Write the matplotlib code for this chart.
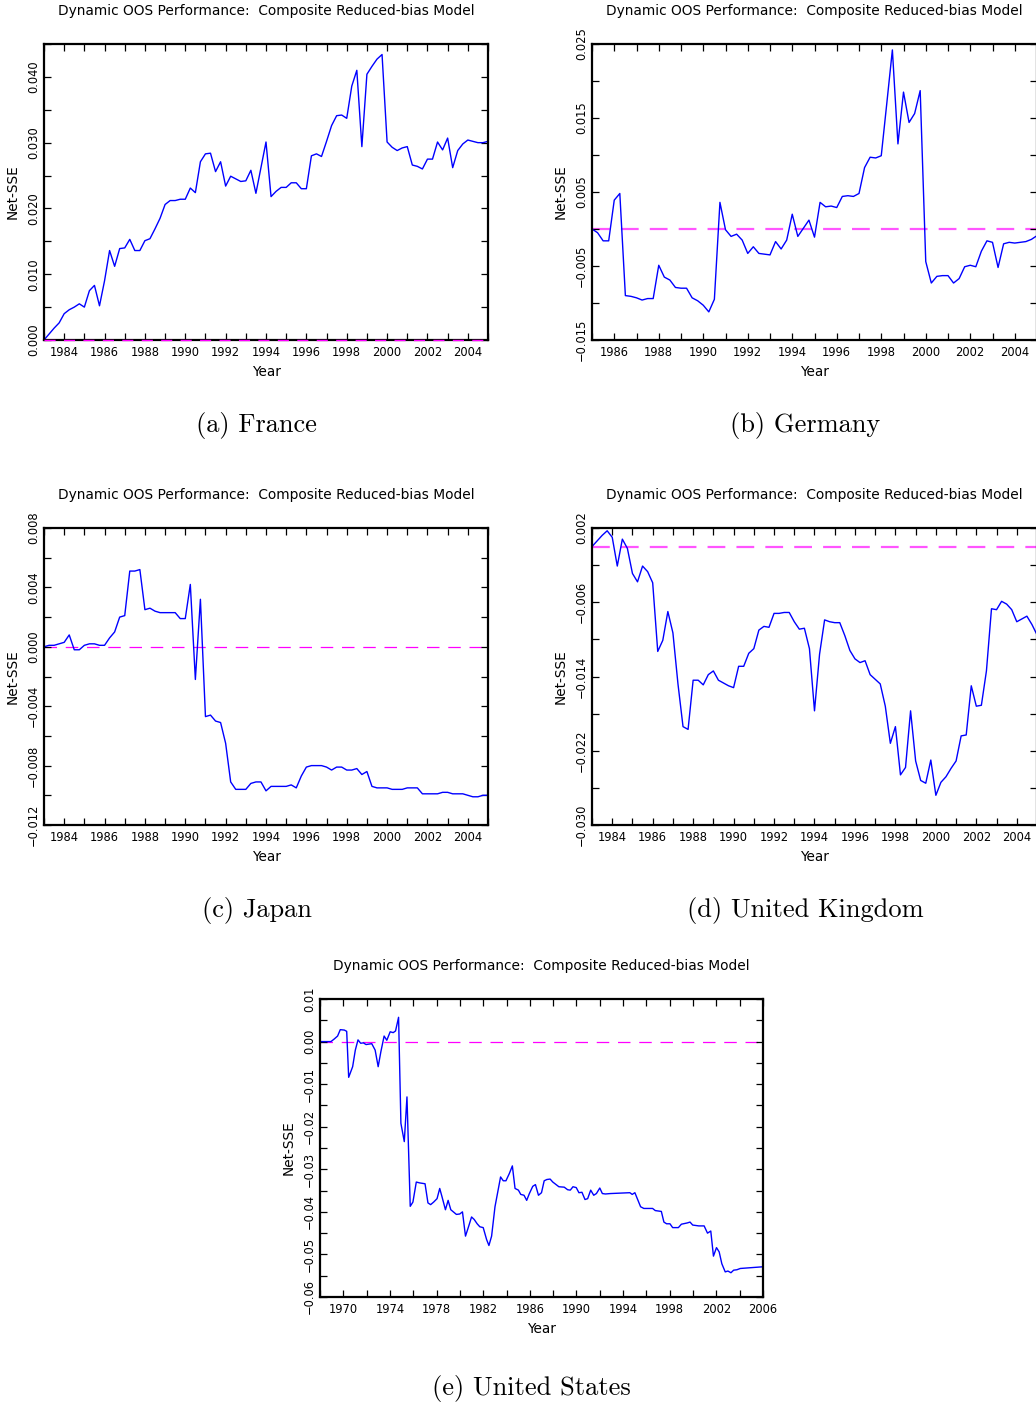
import numpy as np
import matplotlib
matplotlib.use("Agg")
import matplotlib.pyplot as plt
from matplotlib.transforms import offset_copy
from matplotlib.ticker import FixedLocator, FuncFormatter

# ---------------- data ----------------
france_start = 1983.0
france = [0.0000, 0.0009, 0.0018, 0.0026, 0.0040, 0.0046, 0.0050, 0.0055, 0.0050, 0.0075,
          0.0083, 0.0052, 0.0090, 0.0136, 0.0112, 0.0139, 0.0140, 0.0153, 0.0136, 0.0136,
          0.0151, 0.0154, 0.0169, 0.0185, 0.0206, 0.0212, 0.0212, 0.0214, 0.0214, 0.0231,
          0.0224, 0.0271, 0.0283, 0.0284, 0.0256, 0.0271, 0.0234, 0.0249, 0.0245, 0.0241,
          0.0242, 0.0258, 0.0223, 0.0262, 0.0301, 0.0218, 0.0226, 0.0232, 0.0232, 0.0239,
          0.0239, 0.0230, 0.0230, 0.0280, 0.0283, 0.0279, 0.0302, 0.0326, 0.0341, 0.0342,
          0.0337, 0.0386, 0.0410, 0.0294, 0.0404, 0.0416, 0.0427, 0.0434, 0.0301, 0.0293,
          0.0288, 0.0292, 0.0294, 0.0266, 0.0264, 0.0260, 0.0275, 0.0275, 0.0301, 0.0289,
          0.0307, 0.0262, 0.0288, 0.0298, 0.0304, 0.0302, 0.0300, 0.0300, 0.0302]

germany_start = 1985.0
germany = [0.0000, -0.0005, -0.0016, -0.0016, 0.0039, 0.0048, -0.0090, -0.0091, -0.0093, -0.0096,
           -0.0094, -0.0094, -0.0049, -0.0065, -0.0069, -0.0079, -0.0080, -0.0080, -0.0093, -0.0097,
           -0.0103, -0.0112, -0.0095, 0.0036, -0.0001, -0.0010, -0.0007, -0.0015, -0.0033, -0.0024,
           -0.0033, -0.0034, -0.0035, -0.0017, -0.0027, -0.0015, 0.0020, -0.0010, 0.0001, 0.0012,
           -0.0011, 0.0036, 0.0030, 0.0031, 0.0029, 0.0044, 0.0045, 0.0044, 0.0048, 0.0083,
           0.0097, 0.0096, 0.0099, 0.0170, 0.0242, 0.0115, 0.0185, 0.0144, 0.0156, 0.0187,
           -0.0044, -0.0073, -0.0064, -0.0063, -0.0063, -0.0073, -0.0067, -0.0051, -0.0049, -0.0051,
           -0.0030, -0.0016, -0.0018, -0.0052, -0.0020, -0.0018, -0.0019, -0.0018, -0.0017, -0.0014,
           -0.0009]

japan_start = 1983.0
japan = [0.0000, 0.0001, 0.0001, 0.0002, 0.0003, 0.0008, -0.0002, -0.0002, 0.0001, 0.0002,
         0.0002, 0.0001, 0.0001, 0.0006, 0.0010, 0.0020, 0.0021, 0.0051, 0.0051, 0.0052,
         0.0025, 0.0026, 0.0024, 0.0023, 0.0023, 0.0023, 0.0023, 0.0019, 0.0019, 0.0042,
         -0.0022, 0.0032, -0.0047, -0.0046, -0.0050, -0.0051, -0.0065, -0.0091, -0.0096, -0.0096,
         -0.0096, -0.0092, -0.0091, -0.0091, -0.0097, -0.0094, -0.0094, -0.0094, -0.0094, -0.0093,
         -0.0095, -0.0087, -0.0081, -0.0080, -0.0080, -0.0080, -0.0081, -0.0083, -0.0081, -0.0081,
         -0.0083, -0.0083, -0.0082, -0.0086, -0.0084, -0.0094, -0.0095, -0.0095, -0.0095, -0.0096,
         -0.0096, -0.0096, -0.0095, -0.0095, -0.0095, -0.0099, -0.0099, -0.0099, -0.0099, -0.0098,
         -0.0098, -0.0099, -0.0099, -0.0099, -0.0100, -0.0101, -0.0101, -0.0100, -0.0100]

uk_start = 1983.0
uk = [0.0000, 0.0006, 0.0012, 0.0017, 0.0010, -0.0021, 0.0008, -0.0002, -0.0029, -0.0038,
      -0.0021, -0.0027, -0.0039, -0.0113, -0.0101, -0.0070, -0.0093, -0.0148, -0.0194, -0.0197,
      -0.0144, -0.0144, -0.0149, -0.0138, -0.0134, -0.0144, -0.0147, -0.0150, -0.0152, -0.0129,
      -0.0129, -0.0115, -0.0110, -0.0090, -0.0086, -0.0087, -0.0072, -0.0072, -0.0071, -0.0071,
      -0.0081, -0.0089, -0.0088, -0.0110, -0.0177, -0.0116, -0.0079, -0.0081, -0.0082, -0.0082,
      -0.0096, -0.0112, -0.0121, -0.0125, -0.0123, -0.0138, -0.0143, -0.0148, -0.0172, -0.0212,
      -0.0194, -0.0246, -0.0238, -0.0177, -0.0231, -0.0252, -0.0255, -0.0230, -0.0268, -0.0254,
      -0.0248, -0.0239, -0.0231, -0.0204, -0.0203, -0.0150, -0.0172, -0.0171, -0.0134, -0.0067,
      -0.0068, -0.0059, -0.0062, -0.0068, -0.0081, -0.0078, -0.0075, -0.0084, -0.0095]

us_years = [1968.00, 1968.94, 1969.22, 1969.51, 1969.74, 1970.09, 1970.29, 1970.46, 1970.80, 1971.03,
            1971.26, 1971.49, 1971.72, 1971.95, 1972.18, 1972.44, 1972.73, 1972.99, 1973.22, 1973.50,
            1973.73, 1974.02, 1974.28, 1974.48, 1974.74, 1974.94, 1975.23, 1975.46, 1975.74, 1975.97,
            1976.26, 1976.55, 1977.01, 1977.26, 1977.49, 1977.75, 1978.04, 1978.27, 1978.47, 1978.76,
            1978.99, 1979.22, 1979.70, 1979.99, 1980.22, 1980.48, 1980.74, 1981.00, 1981.23, 1981.48,
            1981.71, 1982.00, 1982.29, 1982.49, 1982.72, 1983.01, 1983.49, 1983.72, 1983.95, 1984.24,
            1984.50, 1984.73, 1985.02, 1985.22, 1985.50, 1985.73, 1985.96, 1986.25, 1986.48, 1986.74,
            1987.00, 1987.23, 1987.46, 1987.74, 1987.97, 1988.49, 1988.95, 1989.24, 1989.47, 1989.70,
            1989.98, 1990.21, 1990.47, 1990.73, 1990.96, 1991.22, 1991.48, 1991.71, 1992.00, 1992.22,
            1992.48, 1992.91, 1994.58, 1994.78, 1995.01, 1995.50, 1995.78, 1996.53, 1996.76, 1997.28,
            1997.50, 1997.73, 1998.02, 1998.25, 1998.74, 1999.00, 1999.51, 1999.74, 1999.97, 2000.49,
            2000.95, 2001.24, 2001.52, 2001.75, 2002.01, 2002.24, 2002.47, 2002.76, 2002.99, 2003.25,
            2003.48, 2003.76, 2004.05, 2006.00]
us = [0.0000, 0.0000, 0.0006, 0.0013, 0.0028, 0.0027, 0.0024, -0.0084, -0.0059, -0.0020,
      0.0004, -0.0004, -0.0003, -0.0007, -0.0006, -0.0005, -0.0020, -0.0059, -0.0024, 0.0013,
      0.0003, 0.0023, 0.0021, 0.0025, 0.0057, -0.0192, -0.0235, -0.0130, -0.0387, -0.0377,
      -0.0330, -0.0332, -0.0334, -0.0379, -0.0383, -0.0377, -0.0369, -0.0345, -0.0365, -0.0395,
      -0.0373, -0.0395, -0.0406, -0.0405, -0.0400, -0.0457, -0.0435, -0.0412, -0.0418, -0.0428,
      -0.0435, -0.0437, -0.0465, -0.0479, -0.0457, -0.0388, -0.0318, -0.0327, -0.0327, -0.0310,
      -0.0292, -0.0345, -0.0349, -0.0359, -0.0361, -0.0373, -0.0357, -0.0340, -0.0336, -0.0361,
      -0.0355, -0.0327, -0.0324, -0.0323, -0.0330, -0.0341, -0.0342, -0.0348, -0.0349, -0.0341,
      -0.0343, -0.0355, -0.0354, -0.0371, -0.0369, -0.0349, -0.0361, -0.0357, -0.0344, -0.0357,
      -0.0358, -0.0357, -0.0355, -0.0359, -0.0355, -0.0388, -0.0392, -0.0392, -0.0397, -0.0399,
      -0.0424, -0.0428, -0.0428, -0.0437, -0.0437, -0.0429, -0.0426, -0.0424, -0.0431, -0.0433,
      -0.0433, -0.0450, -0.0445, -0.0504, -0.0484, -0.0494, -0.0522, -0.0541, -0.0539, -0.0543,
      -0.0537, -0.0536, -0.0533, -0.0529]

title_text = "Dynamic OOS Performance:  Composite Reduced-bias Model"
captions = ["(a) France", "(b) Germany", "(c) Japan", "(d) United Kingdom", "(e) United States"]

# ---------------- figure ----------------
W, H = 1036, 1405
fig = plt.figure(figsize=(W / 100, H / 100), dpi=100)
plt.rcParams['font.family'] = ['DejaVu Sans']

BLUE = '#0000ff'
MAG = '#ff00ff'
TICK_FS = 8.3
LAB_FS = 9.8
TITLE_FS = 9.9


def make_axes(l, r, t, b):
    return fig.add_axes([l / W, (H - b) / H, (r - l) / W, (b - t) / H])


def style(ax, xlim, ylim, xmaj, xmin, ymaj, ymin, yfmt):
    ax.set_xlim(*xlim)
    ax.set_ylim(*ylim)
    ax.xaxis.set_major_locator(FixedLocator(xmaj))
    ax.xaxis.set_minor_locator(FixedLocator(xmin))
    ax.yaxis.set_major_locator(FixedLocator(ymaj))
    ax.yaxis.set_minor_locator(FixedLocator(ymin))
    ax.xaxis.set_major_formatter(FuncFormatter(lambda v, p: "%d" % round(v)))
    ax.yaxis.set_major_formatter(FuncFormatter(lambda v, p: (yfmt % v).replace('-', '\u2212')))
    for s in ax.spines.values():
        s.set_linewidth(1.6)
    ax.tick_params(which='both', direction='in', top=True, right=True, length=5, width=0.9,
                   labelsize=TICK_FS)
    ax.tick_params(axis='x', pad=4)
    ax.tick_params(axis='y', pad=3, labelrotation=90)
    for lab in ax.get_yticklabels():
        lab.set_verticalalignment('center')
    ax.text(0.5, 1, title_text, transform=offset_copy(ax.transAxes, fig=fig, y=33, units='dots'),
            ha='center', va='center', fontsize=TITLE_FS)
    ax.text(0.5, 0, "Year", transform=offset_copy(ax.transAxes, fig=fig, y=-32, units='dots'),
            ha='center', va='center', fontsize=LAB_FS)
    ax.text(0, 0.5, "Net-SSE", transform=offset_copy(ax.transAxes, fig=fig, x=-31, units='dots'),
            ha='center', va='center', rotation=90, fontsize=LAB_FS)


def quarters(start, vals):
    return start + 0.25 * np.arange(len(vals))


# (a) France
ax = make_axes(44, 488, 44, 340)
ax.axhline(0, color=MAG, lw=1.0, dashes=(8, 6), zorder=3, clip_on=False)
ax.plot(quarters(france_start, france), france, color=BLUE, lw=1.0)
style(ax, (1983, 2005), (0, 0.045), np.arange(1984, 2005, 2), np.arange(1983, 2006),
      np.arange(0, 0.0401, 0.01), np.arange(0, 0.0451, 0.005), "%.3f")

# (b) Germany
ax = make_axes(592, 1037, 44, 340)
ax.axhline(0, color='#ff55ff', lw=1.6, dashes=(8, 5), zorder=1)
ax.plot(quarters(germany_start, germany), germany, color=BLUE, lw=1.0)
style(ax, (1985, 2005), (-0.015, 0.025), np.arange(1986, 2005, 2), np.arange(1985, 2006),
      np.arange(-0.015, 0.0251, 0.01), np.arange(-0.015, 0.0251, 0.005), "%.3f")

# (c) Japan
ax = make_axes(44, 488, 528, 825)
ax.axhline(0, color=MAG, lw=0.9, dashes=(10, 7), zorder=1)
ax.plot(quarters(japan_start, japan), japan, color=BLUE, lw=1.0)
style(ax, (1983, 2005), (-0.012, 0.008), np.arange(1984, 2005, 2), np.arange(1983, 2006),
      np.arange(-0.012, 0.0081, 0.004), np.arange(-0.012, 0.0081, 0.002), "%.3f")

# (d) United Kingdom
ax = make_axes(592, 1037, 528, 825)
ax.axhline(0, color='#ff55ff', lw=1.6, dashes=(8, 5), zorder=1)
ax.plot(quarters(uk_start, uk), uk, color=BLUE, lw=1.0)
style(ax, (1983, 2005), (-0.030, 0.002), np.arange(1984, 2005, 2), np.arange(1983, 2006),
      np.arange(-0.030, 0.0021, 0.008), np.arange(-0.030, 0.0021, 0.004), "%.3f")

# (e) United States
ax = make_axes(320, 763, 999, 1297)
ax.axhline(0, color=MAG, lw=0.9, dashes=(10, 7), zorder=1)
ax.plot(us_years, us, color=BLUE, lw=1.0)
style(ax, (1968, 2006), (-0.06, 0.01), np.arange(1970, 2007, 4), np.arange(1968, 2007, 2),
      np.arange(-0.06, 0.0101, 0.01), np.arange(-0.06, 0.0101, 0.005), "%.2f")

# captions
cap_pos = [(256, 426), (805, 426), (257, 911), (805, 911), (531, 1389)]
for (cx, cy), c in zip(cap_pos, captions):
    fig.text(cx / W, 1 - cy / H, c, ha='center', va='center', fontsize=19, family='cmr10')

fig.savefig("out.png", dpi=100)
